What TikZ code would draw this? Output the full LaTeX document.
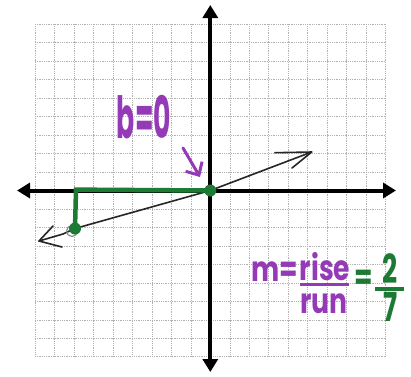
\documentclass[tikz,border=0pt]{standalone}
\usepackage{fontspec}
\newfontfamily\handfont[FakeStretch=0.76]{Poppins}
\newfontfamily\handnarrow[FakeStretch=0.46]{Poppins}
\newfontfamily\handdigit[FakeStretch=0.66]{Poppins}
\usetikzlibrary{arrows.meta}
\definecolor{penpurple}{RGB}{148,58,182}
\definecolor{pengreen}{RGB}{28,122,52}
\tikzset{
  gridline/.style={draw=black!30,line width=0.6pt,dash pattern=on 1pt off 0.8pt},
  axisline/.style={draw=black,line width=4pt,{Triangle[length=13pt,width=15pt]}-{Triangle[length=13pt,width=15pt]}},
  slopeline/.style={draw=black!85,line width=1.6pt,line join=round,line cap=round},
  runline/.style={draw=pengreen,line width=4.5pt},
  pointer/.style={draw=penpurple,line width=3pt,line cap=round,-{Straight Barb[length=10pt,width=19pt,line width=3pt]}},
  pen/.style={inner sep=0pt,outer sep=0pt,anchor=base,font=\handfont\bfseries\fontsize{35}{35}\selectfont},
  dot/.style={circle,fill=pengreen,inner sep=0pt,minimum size=12pt},
}
\begin{document}
\begin{tikzpicture}[x=1pt,y=-1pt]
\path[use as bounding box,fill=white] (0,0) rectangle (411,376);
% grid
\foreach \k in {0,...,18} {
  \draw[gridline] ({35+19.48*\k},24.3) -- ({35+19.48*\k},356.7);
  \draw[gridline] (35,{24.3+18.47*\k}) -- (385.7,{24.3+18.47*\k});
}
% axes
\coordinate (yTop) at (210.3,5);
\coordinate (yBot) at (210.3,372);
\coordinate (xLeft) at (17,190.5);
\coordinate (xRight) at (396,190.5);
\draw[axisline] (yBot) -- (yTop);
\draw[axisline] (xLeft) -- (xRight);
% the line y = 2/7 x
\coordinate (O) at (210.3,190.5);
\coordinate (P) at (75,228.5);
\coordinate (C) at (76,189.6);
\coordinate (tipL) at (39,241);
\coordinate (bendL) at (63,234);
\coordinate (tipR) at (311.7,152);
\draw[slopeline] (tipL) -- (bendL) -- (P) -- (O) -- (tipR);
\draw[slopeline] (53,226) -- (tipL) -- (62,247);
\draw[slopeline] (275,152.7) -- (tipR) -- (292,168);
% rise and run
\draw[runline] (O) -- (C) -- (P);
\draw[black!45,line width=1.2pt] (72,231) circle (5.5pt);
\node[dot] (Pdot) at (P) {};
\node[dot] (Odot) at (O) {};
% y-intercept label
\node[pen,text=penpurple,font=\handnarrow\bfseries\fontsize{58}{58}\selectfont] (bzero) at (144,138.5) {b=0};
\coordinate (arrTail) at (183,148);
\coordinate (arrHead) at (200,177);
\draw[pointer] (arrTail) -- (arrHead);
% slope
\node[pen,text=penpurple] (mEq) at (275,281) {m=};
\node[pen,text=penpurple] (rise) at (325,280) {rise};
\draw[penpurple,line width=3pt] (300,284.5) -- (349,284.5);
\node[pen,text=penpurple] (run) at (324,313) {run};
\node[pen,text=pengreen,anchor=center] (eqTwo) at (364,280) {=};
\node[pen,text=pengreen,font=\handdigit\bfseries\fontsize{40}{40}\selectfont] (two) at (390,283) {2};
\draw[pengreen,line width=3.5pt] (375,289) -- (404,289);
\node[pen,text=pengreen,font=\handdigit\bfseries\fontsize{40}{40}\selectfont] (seven) at (391,321) {7};
\end{tikzpicture}
\end{document}
